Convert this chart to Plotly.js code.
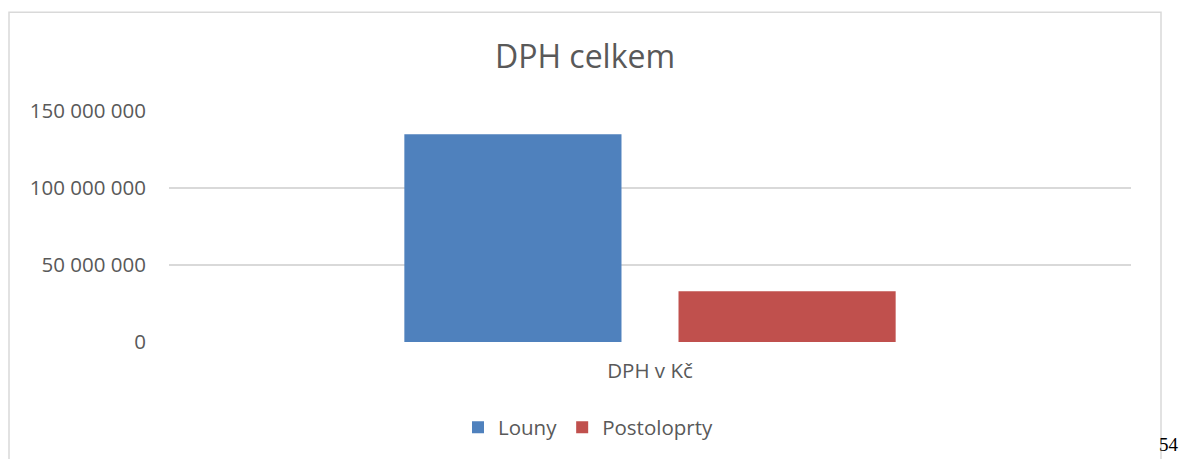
<!DOCTYPE html>
<html>
<head>
<meta charset="utf-8">
<script src="https://cdn.plot.ly/plotly-3.0.1.min.js"></script>
<style>
  html, body { margin: 0; padding: 0; background: #ffffff; }
  #chart { width: 1182px; height: 459px; }
</style>
</head>
<body>
<div id="chart"></div>
<script>
const categories = ["DPH v Kč"];
const seriesNames = ["Louny", "Postoloprty"];
const lounyValues = [134900000];
const postoloprtyValues = [32900000];
const seriesColors = ["#4f81bd", "#c0504d"];
const yTickVals = [0, 50000000, 100000000, 150000000];
const yTickLabels = ["0", "50 000 000", "100 000 000", "150 000 000"];
const chartTitle = "DPH celkem";
const pageNumber = "54";

const font = "Open Sans, sans-serif";
const textColor = "#595959";

const traces = [
  { type: "bar", name: seriesNames[0], x: categories, y: lounyValues, marker: { color: seriesColors[0] }, hoverinfo: "skip" },
  { type: "bar", name: seriesNames[1], x: categories, y: postoloprtyValues, marker: { color: seriesColors[1] }, hoverinfo: "skip" }
];

const layout = {
  width: 1182,
  height: 459,
  margin: { l: 169, r: 51, t: 111, b: 117, pad: 0 },
  paper_bgcolor: "#ffffff",
  plot_bgcolor: "#ffffff",
  barmode: "group",
  bargap: 0.43,
  bargroupgap: 0.208,
  title: {
    text: chartTitle,
    font: { family: font, size: 32, color: textColor },
    xref: "paper",
    x: (585 - 169) / 962, xanchor: "center",
    y: 1 - 57 / 459, yref: "container", yanchor: "middle"
  },
  xaxis: {
    type: "category",
    showgrid: false,
    zeroline: false,
    showline: false,
    ticks: "",
    ticklabelstandoff: 14,
    tickfont: { family: font, size: 20.5, color: textColor }
  },
  yaxis: {
    range: [0, 150000000],
    tickvals: yTickVals,
    ticktext: yTickLabels,
    showgrid: true,
    gridcolor: "#d9d9d9",
    gridwidth: 1.5,
    zeroline: false,
    showline: false,
    ticks: "",
    ticklabelstandoff: 22,
    tickfont: { family: font, size: 20.5, color: textColor }
  },
  showlegend: true,
  legend: {
    orientation: "h",
    x: (588 - 169) / 962, xanchor: "center",
    y: (341.7 - 427) / 231, yanchor: "middle",
    font: { family: font, size: 20.5, color: textColor },
    itemwidth: 30,
    bgcolor: "rgba(0,0,0,0)"
  },
  shapes: [
    {
      type: "rect", xref: "paper", yref: "paper", layer: "below",
      x0: (9 - 169) / 962, x1: (1161 - 169) / 962,
      y0: (341.7 - 480) / 231, y1: (341.7 - 12) / 231,
      line: { color: "#d9d9d9", width: 1.5 },
      fillcolor: "rgba(0,0,0,0)"
    }
  ],
  annotations: [
    {
      text: pageNumber, xref: "paper", yref: "paper",
      x: (1180 - 169) / 962, xanchor: "right",
      y: (341.7 - 444) / 231, yanchor: "middle",
      showarrow: false,
      borderpad: 0,
      font: { family: "Liberation Serif, serif", size: 19, color: "#000000" }
    }
  ]
};

Plotly.newPlot("chart", traces, layout, { displayModeBar: false, staticPlot: true });
</script>
</body>
</html>
